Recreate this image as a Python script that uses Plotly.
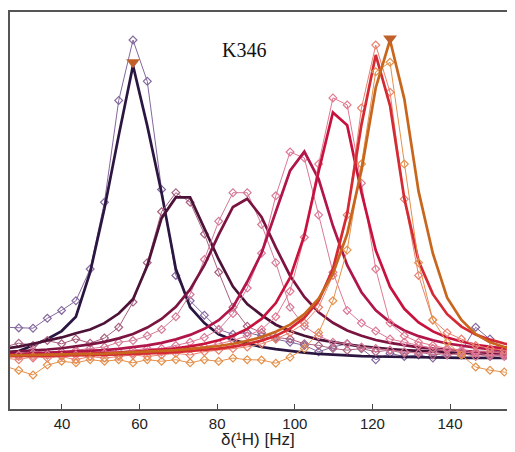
import plotly.graph_objects as go

# Frequency grid of the spectra (Hz)
freq = [25.18, 28.86, 32.54, 36.22, 39.90, 43.58, 47.26, 50.94, 54.62, 58.30,
        61.98, 65.66, 69.34, 73.02, 76.70, 80.38, 84.06, 87.74, 91.42, 95.10,
        98.78, 102.46, 106.14, 109.82, 113.50, 117.18, 120.86, 124.54, 128.22, 131.90,
        135.58, 139.26, 142.94, 146.62, 150.30, 153.98, 157.66]

# Fitted line shapes (thick lines)
fit_1 = [1.7, 2.2, 4.0, 6.0, 8.5, 13, 27, 47, 70, 92, 73, 52, 28, 16, 11, 7.5, 5.7, 4.5, 3.5, 2.8,
         2.2, 1.7, 1.3, 1.0, 0.8, 0.6, 0.5, 0.4, 0.3, 0.3, 0.2, 0.2, 0.1, 0.1, 0.1, 0.0, 0.0]
fit_2 = [3.0, 3.6, 4.5, 5.4, 6.5, 7.8, 9.0, 11, 14, 18.5, 29, 44, 50.5, 50.5, 41, 31, 22.5, 17, 13.5, 10.5,
         8.5, 7.0, 5.8, 5.0, 4.3, 3.7, 3.2, 2.8, 2.5, 2.2, 2.0, 1.8, 1.6, 1.5, 1.3, 1.2, 1.1]
fit_3 = [1.9, 2.1, 2.4, 2.7, 3.1, 3.6, 4.3, 5.1, 6.2, 7.6, 9.6, 12.3, 16.1, 21.6, 29.2, 38.8, 47.5, 50.1, 44.4, 34.8,
         25.9, 19.2, 14.4, 11.1, 8.7, 7.0, 5.7, 4.8, 4.0, 3.4, 3.0, 2.6, 2.3, 2.0, 1.8, 1.6, 1.4]
fit_4 = [1.1, 1.3, 1.4, 1.6, 1.7, 2.0, 2.2, 2.5, 2.9, 3.4, 4.0, 4.8, 5.9, 7.3, 9.2, 11.9, 16.0, 24, 33, 46,
         58.9, 64.9, 56.3, 41.6, 29.2, 20.7, 15.0, 11.3, 8.7, 6.9, 5.6, 4.6, 3.9, 3.3, 2.8, 2.5, 2.2]
fit_5 = [0.8, 0.8, 0.9, 1.0, 1.1, 1.2, 1.4, 1.5, 1.7, 2.0, 2.3, 2.6, 3.1, 3.7, 4.5, 5.6, 7.0, 9.2, 12.3, 17.3,
         25.3, 38.6, 58.7, 77.2, 73.2, 52.1, 33.9, 22.4, 15.5, 11.2, 8.4, 6.5, 5.2, 4.2, 3.5, 3.0, 2.5]
fit_6 = [0.55, 0.6, 0.65, 0.7, 0.78, 0.85, 0.9, 1.0, 1.2, 1.3, 1.4, 1.6, 1.9, 2.2, 2.5, 3.0, 3.6, 4.4, 5.5, 7.0,
         9.3, 12.7, 18.0, 28.0, 45.4, 73.4, 95.3, 79.4, 50.2, 30.5, 20.1, 13.8, 9.9, 7.4, 5.8, 4.6, 3.7]
fit_7 = [0.8, 0.85, 0.9, 1.0, 1.1, 1.2, 1.3, 1.4, 1.6, 1.7, 2.0, 2.2, 2.5, 2.9, 3.3, 3.8, 4.5, 5.4, 6.6, 8.3,
         10.5, 13.8, 18.7, 26.5, 39, 59, 85, 100, 81.5, 52.4, 32.9, 19, 12, 7.5, 5.0, 3.5, 2.8]

# Measured spectra (thin lines with diamonds)
data_1 = [9.7, 9.5, 9.4, 12.5, 15, 18, 28, 49, 81, 100, 87, 53, 26, 18, 13.5, 9, 7.5, 8, 7, 6,
          5, 4, 2, 3.5, 4.5, 3, -0.5, 1.5, 0.5, 1.0, 0.0, 1.0, 2.0, 9.7, 6.0, 2.0, 1.0]
data_2 = [3.5, 4.7, 4.0, 5.5, 4.5, 6.0, 4.7, 6.3, 9.7, 17.6, 30, 46, 52, 49, 39, 27, 16, 10, 8, 6.5,
          6, 4.5, 4, 3, 2.5, 3, 2, 2.5, 1.5, 2, 1, 1.5, 1, 1.5, 0.5, 1, 1]
data_3 = [2.0, 1.0, 2.5, 1.5, 2.0, 2.5, 3.0, 3.5, 5.0, 5.5, 7.0, 9.0, 13, 20, 31, 43, 52, 52, 42, 30,
          16, 10, 7, 5, 4.5, 3.5, 3, 2.5, 2, 1.5, 2, 1, 1.5, 0.5, 1, 0.5, 0.5]
data_4 = [1.0, 0.5, 1.5, 1.0, 1.0, 2.0, 1.5, 2.0, 2.0, 2.5, 3.0, 3.0, 4.0, 5.0, 6.5, 9.0, 14, 22, 33, 51,
          64.8, 62.9, 45, 27, 15, 11, 8.5, 6, 5, 4, 3, 2.5, 2, 1.5, 1, 1, 1]
data_5 = [0.5, 1.0, 0.0, 1.0, 0.5, 1.0, 0.5, 1.5, 1.0, 1.5, 2.0, 2.0, 2.5, 3.0, 3.5, 4.5, 5.5, 7.0, 9.0, 13,
          21, 38, 61, 81.8, 79.6, 55, 28, 11, 7, 5, 4, 3, 2.5, 2, 2, 1.5, 1.5]
data_6 = [0.0, -0.5, 0.5, 0.0, 0.5, -0.5, 0.5, 0.0, 0.5, 1.0, 0.5, 1.0, 1.5, 1.0, 2.0, 2.5, 3.0, 3.5, 4.5, 6.0,
          8.0, 11, 16, 26, 45, 78.6, 98.4, 83.6, 50, 26, 12, 8, 6, 4, 3, 2.5, 2]
data_7 = [-2.5, -3.8, -5.3, -2.2, -1.0, -1.5, -0.5, -1.0, -0.5, -1.5, -0.5, -1.0, -0.5, -1.5, -0.5, -1.0, 0.0, -0.5, -0.6, -1.6,
          0.3, 3, 8, 18, 34, 61, 90, 93, 61, 30, 12, 5, 1, -2.8, -3.8, -4.4, -4.7]

# Peak markers (triangles)
peak_x = [58.30, 124.54]
peak_y = [93, 100.5]

fits = [fit_1, fit_2, fit_3, fit_4, fit_5, fit_6, fit_7]
datas = [data_1, data_2, data_3, data_4, data_5, data_6, data_7]
fit_colors = ["#2a1640", "#4c1238", "#7c1442", "#b0164a", "#c8123e", "#d42a34", "#c8661e"]
data_colors = ["#84689e", "#a8607f", "#d47a96", "#dc7896", "#e27890", "#e8826e", "#e4904a"]

fig = go.Figure()
for fit, dat, fc, dc in zip(fits, datas, fit_colors, data_colors):
    fig.add_trace(go.Scatter(
        x=freq, y=dat, mode="lines+markers",
        line=dict(color=dc, width=1),
        marker=dict(symbol="diamond-open", size=6, color=dc, line=dict(width=1.2)),
        hoverinfo="skip"))
    fig.add_trace(go.Scatter(
        x=freq, y=fit, mode="lines",
        line=dict(color=fc, width=2.7),
        hoverinfo="skip"))

fig.add_trace(go.Scatter(
    x=peak_x, y=peak_y, mode="markers",
    marker=dict(symbol="triangle-down", size=12, color="#c0602a"),
    hoverinfo="skip"))

fig.add_annotation(x=86.9, y=97, xref="x", yref="y", text="K346", showarrow=False,
                   font=dict(family="Liberation Serif", size=20, color="#111"))
fig.add_annotation(x=0.491, y=-0.078, xref="paper", yref="paper", text="δ(¹H) [Hz]",
                   showarrow=False, yanchor="middle",
                   font=dict(family="Liberation Sans", size=17, color="#222"))

# The page body has an 8 px margin, so the figure is sized to end at the window edge
fig.update_layout(
    width=507, height=444,
    margin=dict(l=2, r=0, t=4, b=43),
    paper_bgcolor="white", plot_bgcolor="white",
    showlegend=False,
    xaxis=dict(range=[26.6, 156.75], tickvals=[40, 60, 80, 100, 120, 140],
               ticks="inside", ticklen=5, tickcolor="#444", tickwidth=1,
               showline=True, linecolor="#555", linewidth=1.5, mirror=True,
               showgrid=False, zeroline=False,
               tickfont=dict(family="Liberation Sans", size=15, color="#222")),
    yaxis=dict(range=[-16, 108.8], showticklabels=False, ticks="",
               showline=True, linecolor="#555", linewidth=1.5, mirror=False,
               showgrid=False, zeroline=False),
)

fig.write_html("out.html")
